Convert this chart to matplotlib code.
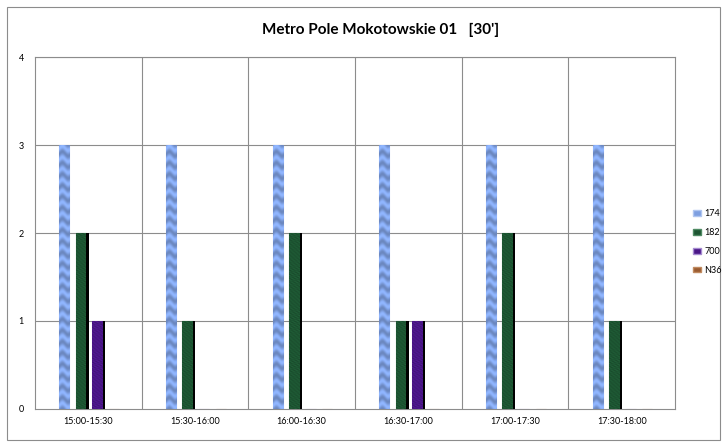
import matplotlib
matplotlib.use("Agg")
import matplotlib.pyplot as plt
import numpy as np
from matplotlib.patches import Rectangle, Patch
from matplotlib.colors import to_rgb

categories = ["15:00-15:30", "15:30-16:00", "16:00-16:30", "16:30-17:00", "17:00-17:30", "17:30-18:00"]
series_names = ["174", "182", "700", "N36"]
s174 = [3, 3, 3, 3, 3, 3]
s182 = [2, 1, 2, 1, 2, 1]
s700 = [1, 0, 0, 1, 0, 0]
sN36 = [0, 0, 0, 0, 0, 0]
yticks = [0, 1, 2, 3, 4]

colors = ["#7e9fe0", "#1d5532", "#4a1687", "#9a5b30"]
edges = ["#b0c6f0", "#4f8a63", "#a58ad0", "#c08a60"]
shadow = [False, True, True, True]
offsets = [-0.225, -0.07, 0.085, 0.24]
width = 0.095

fig = plt.figure(figsize=(7.22, 4.43), dpi=100)
fig.patches.append(Rectangle((7/722, 3/443), 713/722, 433/443, transform=fig.transFigure,
                             fill=False, edgecolor="#8c8c8c", linewidth=0.8))
ax = fig.add_axes([35/722, 1 - 409/443, 640/722, 352/443])

# deterministic texture
def texture(base, kind, h):
    ny, nx = int(90 * h), 10
    yy, xx = np.mgrid[0:ny, 0:nx]
    if kind == 0:
        m = 0.5 + 0.5 * np.sin(yy * 0.55 + 1.2 * np.sin(xx * 0.6))
        amp = 0.3
    else:
        m = 0.5 + 0.5 * np.sin(yy * 2.3 + xx * 1.7) * np.sin(yy * 0.7 - xx * 2.9)
        amp = 0.35
    rgb = np.array(to_rgb(base))
    img = rgb[None, None, :] * (1 - amp / 2 + amp * m[..., None])
    return np.clip(img, 0, 1)

x = np.arange(len(categories))
data = [s174, s182, s700, sN36]
for i, (vals, c, e, off) in enumerate(zip(data, colors, edges, offsets)):
    bars = ax.bar(x + off, vals, width=width, color=c, edgecolor=e, linewidth=0.8, zorder=3)
    for b, v in zip(bars, vals):
        if v > 0:
            im = ax.imshow(texture(c, 0 if i == 0 else 1, v), aspect="auto",
                           extent=(b.get_x(), b.get_x() + b.get_width(), 0, v),
                           zorder=3.5, interpolation="bilinear")
            im.set_clip_path(b)
            if shadow[i]:
                ax.add_patch(Rectangle((b.get_x() + b.get_width() + 0.004, 0), 0.022, v,
                                       facecolor="black", edgecolor="none", zorder=3.6))

ax.set_xlim(-0.5, len(categories) - 0.5)
ax.set_ylim(0, 4)
ax.set_yticks(yticks)
ax.set_yticklabels([str(t) for t in yticks], fontsize=6.5, family="Lato")
ax.set_xticks(x)
ax.set_xticklabels(categories, fontsize=6.5, family="Lato")
ax.tick_params(length=0, pad=6)
ax.tick_params(axis="y", pad=8)
for yv in yticks[1:]:
    ax.axhline(yv, color="#8c8c8c", linewidth=0.8, zorder=1)
for xv in np.arange(0.5, len(categories) - 0.5, 1):
    ax.axvline(xv, color="#8c8c8c", linewidth=0.8, zorder=1)
for name, sp in ax.spines.items():
    sp.set_color("#8c8c8c")
    sp.set_linewidth(0.8)

fig.text(0.527, 1 - 30/443, "Metro Pole Mokotowskie 01   [30']", ha="center", va="center",
         fontsize=11, fontweight="bold", family="Lato")

handles = [Patch(facecolor=c, edgecolor=e) for c, e in zip(colors, edges)]
fig.legend(handles, series_names, loc="center left", bbox_to_anchor=(0.948, 0.454),
           frameon=False, prop={"family": "Lato", "size": 6.5}, handlelength=0.9,
           handleheight=0.6, handletextpad=0.4, labelspacing=1.1)

fig.savefig("out.png", dpi=100)
